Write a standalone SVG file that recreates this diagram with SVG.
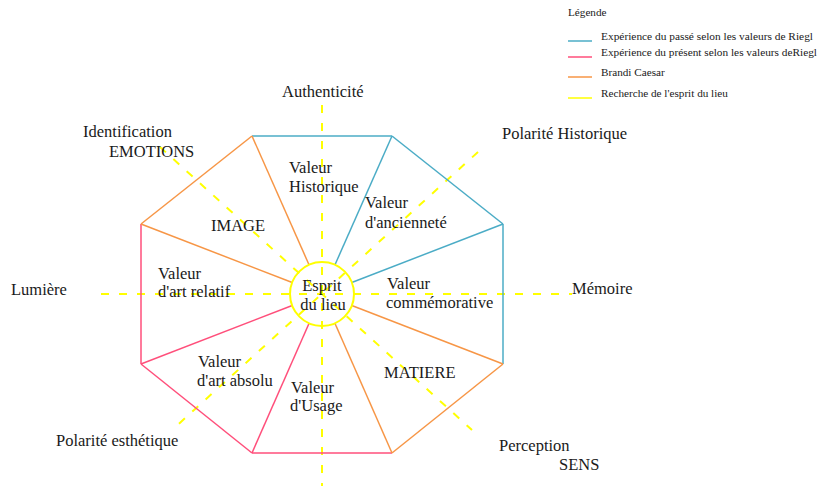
<svg xmlns="http://www.w3.org/2000/svg" width="818" height="488" viewBox="0 0 818 488" font-family="'Liberation Serif', 'DejaVu Serif', serif">
<style>
text{font-family:'Liberation Serif', 'Times New Roman', serif;fill:#1a1a1a}
.lbl{font-size:16.5px}
.lg{font-size:11.2px}
.blue{stroke:#4BACC6;stroke-width:1.5;fill:none}
.pink{stroke:#FF4F7B;stroke-width:1.5;fill:none}
.orange{stroke:#F79646;stroke-width:1.5;fill:none}
.dash{stroke:#FFFF00;stroke-width:2;stroke-dasharray:8,10;fill:none}
</style>
<rect width="818" height="488" fill="#fff"/>
<g id="connectors">
  <line class="dash" x1="322" y1="105" x2="322" y2="486"/>
  <line class="dash" x1="101" y1="294" x2="572" y2="294"/>
  <line class="dash" x1="160" y1="147" x2="472" y2="430"/>
  <line class="dash" x1="478" y1="152" x2="172" y2="430"/>
  <line class="blue" x1="252" y1="136" x2="392" y2="136"/>
  <line class="blue" x1="392" y1="136" x2="503" y2="224"/>
  <line class="blue" x1="503" y1="224" x2="503" y2="364"/>
  <line class="orange" x1="503" y1="364" x2="392" y2="453"/>
  <line class="pink" x1="392" y1="453" x2="252" y2="453"/>
  <line class="pink" x1="252" y1="453" x2="141" y2="364"/>
  <line class="pink" x1="141" y1="364" x2="141" y2="224"/>
  <line class="orange" x1="141" y1="224" x2="252" y2="136"/>
  <line class="orange" x1="252" y1="136" x2="309" y2="264.7"/>
  <line class="blue" x1="392" y1="136" x2="335" y2="264.7"/>
  <line class="blue" x1="503" y1="224" x2="351.8" y2="282.5"/>
  <line class="orange" x1="503" y1="364" x2="351.8" y2="305.5"/>
  <line class="orange" x1="392" y1="453" x2="334.9" y2="323.3"/>
  <line class="pink" x1="252" y1="453" x2="309.1" y2="323.3"/>
  <line class="pink" x1="141" y1="364" x2="292.2" y2="305.5"/>
  <line class="orange" x1="141" y1="224" x2="292.2" y2="282.5"/>
</g>
<g id="center">
  <circle cx="322" cy="294" r="32" fill="none" stroke="#FFFF00" stroke-width="2"/>
  <text class="lbl" x="322" y="291" text-anchor="middle">Esprit</text>
  <text class="lbl" x="323" y="310" text-anchor="middle">du lieu</text>
</g>
<g id="valeur-historique"><text class="lbl" x="289" y="173">Valeur</text><text class="lbl" x="289" y="192">Historique</text></g>
<g id="valeur-anciennete"><text class="lbl" x="365" y="208">Valeur</text><text class="lbl" x="365" y="228">d'ancienneté</text></g>
<g id="valeur-commemorative"><text class="lbl" x="387" y="289">Valeur</text><text class="lbl" x="386" y="308">commémorative</text></g>
<g id="matiere"><text class="lbl" x="384" y="378">MATIERE</text></g>
<g id="valeur-usage"><text class="lbl" x="291" y="393">Valeur</text><text class="lbl" x="290" y="411">d'Usage</text></g>
<g id="valeur-art-absolu"><text class="lbl" x="198" y="367">Valeur</text><text class="lbl" x="197" y="386">d'art absolu</text></g>
<g id="valeur-art-relatif"><text class="lbl" x="158" y="279">Valeur</text><text class="lbl" x="158" y="297">d'art relatif</text></g>
<g id="image"><text class="lbl" x="211" y="231">IMAGE</text></g>
<g id="authenticite"><text class="lbl" x="282" y="97">Authenticité</text></g>
<g id="polarite-historique"><text class="lbl" x="502" y="139">Polarité Historique</text></g>
<g id="memoire"><text class="lbl" x="572" y="294">Mémoire</text></g>
<g id="perception"><text class="lbl" x="499" y="451">Perception</text><text class="lbl" x="559" y="470">SENS</text></g>
<g id="polarite-esthetique"><text class="lbl" x="56" y="446">Polarité esthétique</text></g>
<g id="lumiere"><text class="lbl" x="11" y="295">Lumière</text></g>
<g id="identification"><text class="lbl" x="83" y="137">Identification</text><text class="lbl" x="109" y="157">EMOTIONS</text></g>
<g id="legende">
  <text class="lg" x="568" y="16">Légende</text>
  <line x1="568" y1="41" x2="592" y2="41" stroke="#4BACC6" stroke-width="1.5"/>
  <line x1="568" y1="57" x2="592" y2="57" stroke="#FF4F7B" stroke-width="1.5"/>
  <line x1="568" y1="77" x2="592" y2="77" stroke="#F79646" stroke-width="1.5"/>
  <line x1="568" y1="98" x2="592" y2="98" stroke="#FFFF00" stroke-width="1.5"/>
  <text class="lg" x="601" y="40" textLength="212" lengthAdjust="spacingAndGlyphs">Expérience du passé selon les valeurs de Riegl</text>
  <text class="lg" x="601" y="56" textLength="216" lengthAdjust="spacingAndGlyphs">Expérience du présent selon les valeurs deRiegl</text>
  <text class="lg" x="601" y="76">Brandi Caesar</text>
  <text class="lg" x="601" y="97">Recherche de l'esprit du lieu</text>
</g>
</svg>
